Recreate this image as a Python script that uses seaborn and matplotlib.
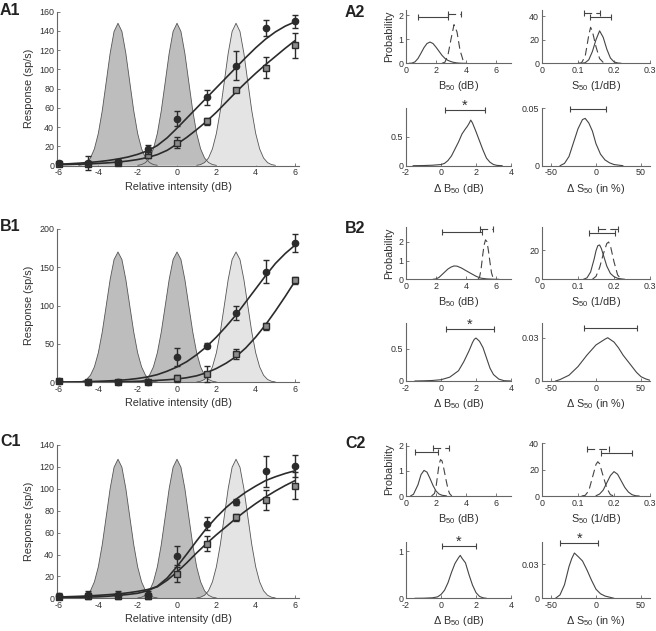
import matplotlib
matplotlib.use('Agg')
import matplotlib.pyplot as plt
import seaborn as sns

# ---- main panels: response vs relative intensity ----
x_int = [-6, -4.5, -3, -1.5, 0, 1.5, 3, 4.5, 6]

a1_fill_y = [2.5, 3, 4, 17, 49, 71, 104, 143, 150]
a1_fill_err = [2, 7, 3, 5, 8, 8, 15, 8, 7]
a1_open_y = [2, 1.5, 2.5, 11, 24, 46, 79, 102, 125]
a1_open_err = [1.5, 1, 2, 3, 6, 4, 2, 11, 13]

b1_fill_y = [1.5, 1, 0.5, 0.5, 33, 48, 90, 144, 182]
b1_fill_err = [1, 1, 1, 1, 12, 3, 9, 15, 12]
b1_open_y = [2, 1, 1, 0.5, 5, 11, 37, 73, 133]
b1_open_err = [2, 1, 1, 1, 4, 10, 6, 5, 5]

c1_fill_y = [2, 3, 3, 3, 39, 68, 88, 116, 121]
c1_fill_err = [3, 4, 4, 4, 9, 6, 3, 14, 10]
c1_open_y = [1.5, 2.5, 2.5, 2, 22, 50, 74, 90, 103]
c1_open_err = [2, 2, 2, 2, 7, 7, 3, 9, 12]

fit_x = [-6, -5.5, -5, -4.5, -4, -3.5, -3, -2.5, -2, -1.5, -1, -0.5, 0,
         0.5, 1, 1.5, 2, 2.5, 3, 3.5, 4, 4.5, 5, 5.5, 6]
a1_fit_fill = [1.5, 2.0, 2.6, 3.3, 4.2, 5.4, 7.0, 9.0, 11.8, 15.5, 21, 29, 39,
               49.5, 60, 70.5, 81, 91.5, 102, 112.5, 122.5, 131.5, 139, 145, 149.5]
a1_fit_open = [1.0, 1.2, 1.5, 1.9, 2.4, 3.0, 3.8, 4.9, 6.4, 8.5, 11.5, 16, 22.5,
               29.5, 37.5, 46, 55.5, 66, 76.5, 86.5, 96, 105, 113.5, 122, 130]
b1_fit_fill = [0.3, 0.4, 0.6, 0.9, 1.3, 1.8, 2.5, 3.5, 5, 7, 10, 14.5, 20,
               27, 36, 46.5, 59, 73, 88, 105, 122, 139, 155, 168, 179]
b1_fit_open = [0.1, 0.1, 0.15, 0.2, 0.3, 0.4, 0.6, 0.9, 1.3, 1.8, 2.5, 3.3, 4.3,
               6, 8.5, 12.5, 18, 25, 33.5, 45, 59, 75, 93, 112, 132]
c1_fit_fill = [0.5, 0.6, 0.8, 1.1, 1.4, 1.9, 2.6, 3.5, 4.6, 6.8, 11, 18.5, 29,
               40.5, 52.5, 64, 74, 83, 90.5, 97, 102.5, 107.5, 111, 114, 116.5]
c1_fit_open = [1.2, 1.5, 1.8, 2.2, 2.7, 3.3, 4.0, 5.0, 6.3, 8.0, 10.5, 16.5, 24,
               32.5, 41.5, 50, 58, 65.5, 73, 80, 86.5, 92.5, 98, 103, 107.5]

bump_centers = [-3, 0, 3]
bump_colors = ['#bdbdbd', '#bdbdbd', '#e4e4e4']
bump_offsets = [-2.0, -1.8, -1.6, -1.4, -1.2, -1.0, -0.8, -0.6, -0.4, -0.2, 0,
                0.2, 0.4, 0.6, 0.8, 1.0, 1.2, 1.4, 1.6, 1.8, 2.0]
bump_shape = [0.0026, 0.008, 0.022, 0.054, 0.118, 0.226, 0.386, 0.586, 0.788, 0.942, 1.0,
              0.942, 0.788, 0.586, 0.386, 0.226, 0.118, 0.054, 0.022, 0.008, 0.0026]
bump_peaks = [148, 170, 127]

# ---- bootstrap distributions ----
a2_b50_sx = [0.2, 0.4, 0.6, 0.8, 1.0, 1.2, 1.4, 1.6, 1.8, 2.0, 2.2, 2.4, 2.6, 2.8, 3.0, 3.2, 3.4, 3.6, 3.8, 4.0]
a2_b50_sy = [0, 0.01, 0.06, 0.2, 0.42, 0.65, 0.82, 0.88, 0.82, 0.67, 0.5, 0.33, 0.2, 0.12, 0.07, 0.035, 0.015, 0.005, 0, 0]
a2_b50_dx = [2.4, 2.6, 2.8, 3.0, 3.2, 3.4, 3.6, 3.8, 4.0]
a2_b50_dy = [0, 0.05, 0.35, 1.0, 1.6, 1.3, 0.55, 0.13, 0.01]
a2_s50_sx = [0.11, 0.12, 0.13, 0.14, 0.15, 0.16, 0.17, 0.18, 0.19, 0.2, 0.21, 0.22]
a2_s50_sy = [0, 0.5, 3, 10, 20, 27.5, 22, 12, 4.5, 1.2, 0.3, 0]
a2_s50_dx = [0.1, 0.11, 0.12, 0.13, 0.135, 0.14, 0.15, 0.16, 0.17, 0.18]
a2_s50_dy = [0, 0.5, 6, 24, 30.5, 27, 14, 4, 0.8, 0]
a2_db_x = [-1.6, -1.0, -0.5, 0, 0.2, 0.4, 0.6, 0.8, 1.0, 1.2, 1.4, 1.5, 1.6, 1.7, 1.8, 2.0, 2.2, 2.4, 2.6, 2.8, 3.0, 3.2, 3.5]
a2_db_y = [0, 0.003, 0.008, 0.02, 0.04, 0.09, 0.17, 0.29, 0.41, 0.55, 0.64, 0.68, 0.73, 0.79, 0.74, 0.59, 0.43, 0.27, 0.13, 0.06, 0.02, 0.005, 0]
a2_ds_x = [-40, -35, -30, -25, -20, -15, -12, -8, -4, 0, 5, 10, 15, 20, 30]
a2_ds_y = [0, 0.002, 0.008, 0.02, 0.032, 0.04, 0.041, 0.037, 0.03, 0.019, 0.01, 0.005, 0.0025, 0.001, 0]

b2_b50_sx = [1.8, 2.0, 2.2, 2.4, 2.6, 2.8, 3.0, 3.2, 3.4, 3.7, 4.0, 4.4, 4.7, 5.0, 5.4, 5.8, 6.2]
b2_b50_sy = [0, 0.02, 0.1, 0.25, 0.4, 0.55, 0.65, 0.71, 0.7, 0.6, 0.46, 0.28, 0.15, 0.06, 0.02, 0.005, 0]
b2_b50_dx = [4.8, 4.9, 5.0, 5.1, 5.2, 5.3, 5.4, 5.5, 5.6, 5.7, 5.8, 5.9]
b2_b50_dy = [0, 0.1, 0.5, 1.2, 1.8, 2.1, 2.0, 1.5, 0.9, 0.35, 0.08, 0]
b2_s50_sx = [0.115, 0.125, 0.135, 0.145, 0.15, 0.155, 0.16, 0.165, 0.17, 0.18, 0.19, 0.2, 0.21, 0.22, 0.23]
b2_s50_sy = [0, 1, 5, 14, 19.5, 23, 23.5, 21, 17, 9, 4, 1.8, 0.7, 0.3, 0]
b2_s50_dx = [0.14, 0.15, 0.16, 0.17, 0.18, 0.185, 0.19, 0.2, 0.21, 0.22]
b2_s50_dy = [0, 2, 8, 17, 24.5, 25.5, 23, 12, 3, 0]
b2_db_x = [-1.5, -1, -0.5, 0, 0.5, 1, 1.3, 1.6, 1.8, 1.9, 2.0, 2.2, 2.4, 2.6, 2.8, 3.0, 3.3, 3.6, 4.0]
b2_db_y = [0, 0.003, 0.008, 0.02, 0.06, 0.16, 0.3, 0.47, 0.6, 0.65, 0.67, 0.62, 0.52, 0.36, 0.2, 0.1, 0.03, 0.005, 0]
b2_ds_x = [-45, -40, -30, -20, -10, 0, 5, 10, 13, 20, 25, 30, 40, 45, 50, 55, 60]
b2_ds_y = [0, 0.001, 0.004, 0.01, 0.018, 0.025, 0.027, 0.029, 0.03, 0.027, 0.023, 0.018, 0.01, 0.006, 0.003, 0.0015, 0.0005]

c2_b50_sx = [0.3, 0.5, 0.8, 1.0, 1.2, 1.4, 1.6, 1.8, 2.0, 2.2, 2.4, 2.7]
c2_b50_sy = [0, 0.07, 0.45, 0.85, 1.02, 0.95, 0.7, 0.42, 0.2, 0.08, 0.03, 0.005]
c2_b50_dx = [1.7, 1.9, 2.0, 2.1, 2.2, 2.3, 2.4, 2.5, 2.6, 2.7, 2.8, 2.9, 3.05]
c2_b50_dy = [0, 0.1, 0.35, 0.8, 1.25, 1.45, 1.4, 1.15, 0.85, 0.55, 0.28, 0.1, 0]
c2_s50_sx = [0.15, 0.16, 0.17, 0.18, 0.19, 0.2, 0.21, 0.22, 0.23, 0.24, 0.25, 0.26, 0.27]
c2_s50_sy = [0.2, 1.5, 4.5, 10, 15.5, 18.5, 16.5, 11.5, 6.5, 3, 1, 0.2, 0]
c2_s50_dx = [0.11, 0.12, 0.13, 0.14, 0.15, 0.155, 0.16, 0.17, 0.18, 0.19, 0.2]
c2_s50_dy = [0, 0.5, 4, 14, 24, 26, 24.5, 15, 6, 1, 0]
c2_db_x = [-1.5, -1, -0.5, -0.2, 0, 0.2, 0.4, 0.6, 0.8, 1.0, 1.1, 1.2, 1.4, 1.6, 1.8, 2.0, 2.2, 2.4, 2.6]
c2_db_y = [0, 0.002, 0.01, 0.03, 0.08, 0.17, 0.33, 0.55, 0.74, 0.86, 0.91, 0.85, 0.75, 0.5, 0.28, 0.12, 0.04, 0.01, 0]
c2_ds_x = [-45, -40, -35, -30, -27, -24, -20, -15, -10, -5, 0, 5, 10, 15, 20]
c2_ds_y = [0, 0.003, 0.012, 0.028, 0.035, 0.04, 0.037, 0.033, 0.025, 0.016, 0.008, 0.004, 0.002, 0.001, 0]

# confidence bars: (low, high, y, dashed?)
a2_b50_ci = [(0.82, 2.82, 1.9, False), (2.8, 3.65, 2.03, True)]
a2_s50_ci = [(0.133, 0.192, 39.5, False), (0.117, 0.161, 42.3, True)]
a2_db_ci = (0.23, 2.51, 0.96)
a2_ds_ci = (-29, 11, 0.049)
b2_b50_ci = [(2.38, 5.04, 2.5, False), (4.93, 5.78, 2.68, True)]
b2_s50_ci = [(0.131, 0.204, 31.4, False), (0.155, 0.211, 34.3, True)]
b2_db_ci = (0.29, 3.03, 0.81)
b2_ds_ci = (-13.3, 45.9, 0.0365)
c2_b50_ci = [(0.6, 2.16, 1.76, False), (1.82, 2.87, 1.93, True)]
c2_s50_ci = [(0.164, 0.251, 32.4, False), (0.126, 0.185, 35.4, True)]
c2_db_ci = (0.04, 2.0, 1.1)
c2_ds_ci = (-40, 2.6, 0.0486)

sns.set_style('ticks')
plt.rcParams['font.family'] = ['Liberation Sans', 'DejaVu Sans']
plt.rcParams['mathtext.default'] = 'regular'
plt.rcParams['axes.unicode_minus'] = False
plt.rcParams['lines.scale_dashes'] = False

TXT = '#303030'
AX = '#666666'
LINE = '#2b2b2b'
DASH = (0, (5.5, 3))
W, H = 656, 631
fig = plt.figure(figsize=(W / 100, H / 100), dpi=100)


def px_axes(left, top, right, bottom):
    return fig.add_axes([left / W, 1 - bottom / H, (right - left) / W, (bottom - top) / H])


def style(ax, xlim, ylim, xticks, yticks, xlabels=None, ylabels=None):
    ax.set_xlim(*xlim)
    ax.set_ylim(*ylim)
    ax.set_xticks(xticks)
    ax.set_yticks(yticks)
    if xlabels:
        ax.set_xticklabels(xlabels)
    if ylabels:
        ax.set_yticklabels(ylabels)
    sns.despine(ax=ax)
    for s in ['left', 'bottom']:
        ax.spines[s].set_color(AX)
        ax.spines[s].set_linewidth(0.8)
    ax.tick_params(direction='in', length=2.5, width=0.6, color=AX,
                   labelsize=6.4, labelcolor=TXT, pad=2)


def main_panel(ax, fy, fe, oy, oe, ffit, ofit, peak, ymax, yticks):
    for c, col in zip(bump_centers, bump_colors):
        bx = [c + o for o in bump_offsets]
        by = [peak * h for h in bump_shape]
        ax.fill_between(bx, 0, by, facecolor=col, edgecolor='none', zorder=1)
        ax.plot(bx, by, color='#555555', lw=0.6, zorder=2)
    sns.lineplot(x=fit_x, y=ffit, ax=ax, color=LINE, lw=1.2, zorder=3)
    sns.lineplot(x=fit_x, y=ofit, ax=ax, color=LINE, lw=1.2, zorder=3)
    ax.errorbar(x_int, oy, yerr=oe, fmt='s', ms=4, mfc='#8c8c8c', mec=LINE, mew=1,
                ecolor=LINE, elinewidth=1, capsize=2.5, capthick=1, zorder=5, clip_on=False)
    ax.errorbar(x_int, fy, yerr=fe, fmt='o', ms=4.5, mfc=LINE, mec=LINE,
                ecolor=LINE, elinewidth=1, capsize=2.5, capthick=1, zorder=6, clip_on=False)
    style(ax, (-6.1, 6.2), (0, ymax), [-6, -4, -2, 0, 2, 4, 6], yticks)
    ax.set_xlabel('Relative intensity (dB)', fontsize=7.8, color=TXT, labelpad=3)
    ax.set_ylabel('Response (sp/s)', fontsize=7.8, color=TXT, labelpad=4)


def ci_bar(ax, lo, hi, y, dashed=False):
    ls = DASH if dashed else '-'
    ax.plot([lo, hi], [y, y], color='#444444', lw=0.8, ls=ls, marker='|',
            ms=4, mew=0.8, clip_on=False, zorder=4)


def dist_panel(ax, sx, sy, dx=None, dy=None):
    sns.lineplot(x=sx, y=sy, ax=ax, color='#444444', lw=0.8)
    if dx is not None:
        sns.lineplot(x=dx, y=dy, ax=ax, color='#444444', lw=0.8, linestyle=DASH)


def star(ax, lo, hi, y):
    ax.annotate('*', ((lo + hi) / 2, y), xytext=(0, -2), textcoords='offset points',
                ha='center', va='bottom', fontsize=10.5, color=TXT, annotation_clip=False)


rows = [
    dict(main=(11.7, 165.7), top=(10.2, 63.3), bot=(108, 165.7), lab=3,
         fy=a1_fill_y, fe=a1_fill_err, oy=a1_open_y, oe=a1_open_err,
         ffit=a1_fit_fill, ofit=a1_fit_open, peak=bump_peaks[0], ymax=160,
         yt=[0, 20, 40, 60, 80, 100, 120, 140, 160],
         b50=(a2_b50_sx, a2_b50_sy, a2_b50_dx, a2_b50_dy, a2_b50_ci, 2.2, [0, 1, 2]),
         s50=(a2_s50_sx, a2_s50_sy, a2_s50_dx, a2_s50_dy, a2_s50_ci, 45, [0, 20, 40]),
         db=(a2_db_x, a2_db_y, a2_db_ci, 1.0, [0, 0.5], ['0', '0.5'], True),
         ds=(a2_ds_x, a2_ds_y, a2_ds_ci, 0.05, [0, 0.05], ['0', '0.05'], False),
         name='A'),
    dict(main=(229, 382.3), top=(226.7, 279.3), bot=(323.3, 381), lab=219,
         fy=b1_fill_y, fe=b1_fill_err, oy=b1_open_y, oe=b1_open_err,
         ffit=b1_fit_fill, ofit=b1_fit_open, peak=bump_peaks[1], ymax=200,
         yt=[0, 50, 100, 150, 200],
         b50=(b2_b50_sx, b2_b50_sy, b2_b50_dx, b2_b50_dy, b2_b50_ci, 2.8, [0, 1, 2]),
         s50=(b2_s50_sx, b2_s50_sy, b2_s50_dx, b2_s50_dy, b2_s50_ci, 36, [0, 20]),
         db=(b2_db_x, b2_db_y, b2_db_ci, 0.9, [0, 0.5], ['0', '0.5'], True),
         ds=(b2_ds_x, b2_ds_y, b2_ds_ci, 0.04, [0, 0.03], ['0', '0.03'], False),
         name='B'),
    dict(main=(445, 598.3), top=(443.3, 496), bot=(541.7, 598.3), lab=434,
         fy=c1_fill_y, fe=c1_fill_err, oy=c1_open_y, oe=c1_open_err,
         ffit=c1_fit_fill, ofit=c1_fit_open, peak=bump_peaks[2], ymax=140,
         yt=[0, 20, 40, 60, 80, 100, 120, 140],
         b50=(c2_b50_sx, c2_b50_sy, c2_b50_dx, c2_b50_dy, c2_b50_ci, 2.1, [0, 1, 2]),
         s50=(c2_s50_sx, c2_s50_sy, c2_s50_dx, c2_s50_dy, c2_s50_ci, 40, [0, 20, 40]),
         db=(c2_db_x, c2_db_y, c2_db_ci, 1.2, [0, 1], ['0', '1'], True),
         ds=(c2_ds_x, c2_ds_y, c2_ds_ci, 0.05, [0, 0.03], ['0', '0.03'], True),
         name='C'),
]

for r in rows:
    ax = px_axes(57, r['main'][0], 299, r['main'][1])
    main_panel(ax, r['fy'], r['fe'], r['oy'], r['oe'], r['ffit'], r['ofit'],
               r['peak'], r['ymax'], r['yt'])

    # B50
    sx, sy, dx, dy, cis, ym, yt = r['b50']
    ax = px_axes(406, r['top'][0], 511, r['top'][1])
    dist_panel(ax, sx, sy, dx, dy)
    for lo, hi, y, d in cis:
        ci_bar(ax, lo, hi, y, d)
    style(ax, (0, 7), (0, ym), [0, 2, 4, 6], yt)
    ax.set_xlabel('B$_{50}$ (dB)', fontsize=7.8, color=TXT, labelpad=3)
    ax.set_ylabel('Probability', fontsize=7.8, color=TXT, labelpad=3)

    # S50
    sx, sy, dx, dy, cis, ym, yt = r['s50']
    ax = px_axes(542, r['top'][0], 650, r['top'][1])
    dist_panel(ax, sx, sy, dx, dy)
    for lo, hi, y, d in cis:
        ci_bar(ax, lo, hi, y, d)
    style(ax, (0, 0.3), (0, ym), [0, 0.1, 0.2, 0.3], yt, ['0', '0.1', '0.2', '0.3'])
    ax.set_xlabel('S$_{50}$ (1/dB)', fontsize=7.8, color=TXT, labelpad=3)

    # delta B50
    x, y, ci, ym, yt, ytl, sig = r['db']
    ax = px_axes(406, r['bot'][0], 511, r['bot'][1])
    dist_panel(ax, x, y)
    ci_bar(ax, ci[0], ci[1], ci[2])
    if sig:
        star(ax, *ci)
    style(ax, (-2, 4), (0, ym), [-2, 0, 2, 4], yt, None, ytl)
    ax.set_xlabel('Δ B$_{50}$ (dB)', fontsize=7.8, color=TXT, labelpad=3)

    # delta S50
    x, y, ci, ym, yt, ytl, sig = r['ds']
    ax = px_axes(542, r['bot'][0], 650, r['bot'][1])
    dist_panel(ax, x, y)
    ci_bar(ax, ci[0], ci[1], ci[2])
    if sig:
        star(ax, *ci)
    style(ax, (-60, 60), (0, ym), [-50, 0, 50], yt, None, ytl)
    ax.set_xlabel('Δ S$_{50}$ (in %)', fontsize=7.8, color=TXT, labelpad=3)

    fig.text(0.0, 1 - r['lab'] / H, r['name'] + '1', fontsize=11.5, fontweight='bold',
             color='#222222', ha='left', va='top')
    fig.text(345 / W, 1 - (r['lab'] + 2) / H, r['name'] + '2', fontsize=11.5,
             fontweight='bold', color='#222222', ha='left', va='top')

fig.savefig('out.png', dpi=100)
